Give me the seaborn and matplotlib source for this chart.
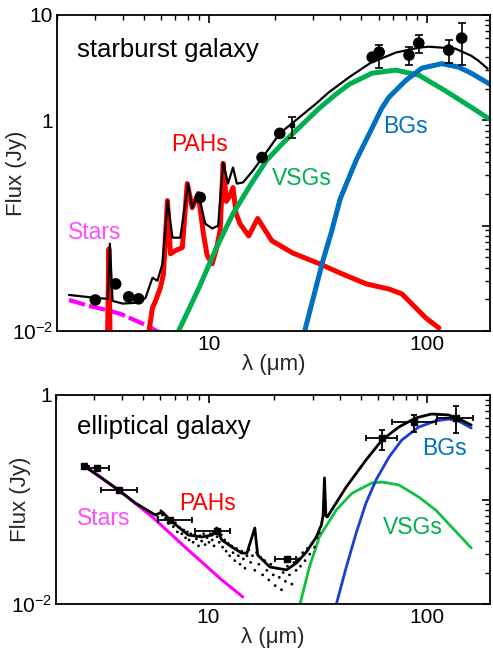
import numpy as np
import pandas as pd
import matplotlib
matplotlib.use("Agg")
import matplotlib.pyplot as plt
import seaborn as sns
from matplotlib.ticker import FixedLocator, FixedFormatter, LogLocator, NullFormatter

# ---------------- data: starburst galaxy (top) ----------------
sb_stars_x = [2.27, 2.8, 3.4, 3.93, 4.5, 5.21, 6.0]
sb_stars_y = [0.0197, 0.0173, 0.0158, 0.0145, 0.0128, 0.0112, 0.0095]

sb_pah_x = [3.30, 3.40, 3.46, 3.52, 3.62, 5.20, 5.27, 5.49, 5.67, 5.97, 6.17, 6.43, 6.64,
            6.99, 7.53, 7.93, 8.36, 8.91, 9.40, 9.79, 10.32, 10.8, 11.23, 11.59, 12.0,
            12.4, 12.87, 13.3, 13.86, 15.2, 16.7, 19.4, 24.2, 32.1, 39.7, 52.7, 67.0,
            76.8, 98.9, 113.5]
sb_pah_y = [0.005, 0.005, 0.060, 0.005, 0.005, 0.005, 0.0094, 0.0166, 0.0193, 0.0257,
            0.035, 0.173, 0.054, 0.058, 0.062, 0.251, 0.148, 0.202, 0.085, 0.052,
            0.0435, 0.06, 0.09, 0.39, 0.17, 0.19, 0.23, 0.13, 0.104, 0.080, 0.117,
            0.072, 0.055, 0.0435, 0.0357, 0.028, 0.025, 0.0225, 0.0133, 0.0107]

sb_vsg_x = [7.2, 8.0, 9.0, 10.0, 10.65, 12.0, 12.87, 15.4, 18.4, 22.0, 26.0, 32.0, 38.0,
            44.0, 56.0, 72.0, 92.0, 122.0, 160.0, 195.0]
sb_vsg_y = [0.0098, 0.0155, 0.026, 0.043, 0.058, 0.097, 0.13, 0.24, 0.42, 0.62, 0.86,
            1.3, 1.75, 2.2, 2.8, 3.0, 2.68, 1.9, 1.33, 1.02]

sb_bg_x = [27.3, 30.0, 33.2, 36.5, 40.0, 44.0, 47.4, 52.0, 56.1, 62.0, 67.0, 80.2, 94.8,
           117.0, 140.0, 160.0, 195.0]
sb_bg_y = [0.0095, 0.0202, 0.0455, 0.088, 0.18, 0.29, 0.42, 0.62, 0.85, 1.3, 1.66,
           2.4, 3.13, 3.45, 3.2, 2.8, 2.2]

sb_tot_x = [2.27, 3.02, 3.42, 3.50, 3.60, 4.01, 4.74, 5.10, 5.49, 5.79, 6.10, 6.45, 6.78,
            7.37, 8.0, 8.36, 8.91, 9.59, 10.32, 11.0, 11.59, 12.2, 12.87, 13.4, 14.3,
            15.9, 17.6, 21.1, 26.0, 31.1, 35.5, 44.0, 55.0, 72.0, 92.0, 102.0, 135.0,
            160.0, 172.0, 190.0]
sb_tot_y = [0.0220, 0.0206, 0.0202, 0.0674, 0.0193, 0.0182, 0.0186, 0.0206, 0.032, 0.030,
            0.0435, 0.173, 0.0769, 0.0769, 0.251, 0.148, 0.202, 0.1045, 0.094, 0.10,
            0.398, 0.251, 0.357, 0.251, 0.257, 0.334, 0.444, 0.752, 1.07, 1.45, 1.85,
            2.57, 3.5, 4.4, 4.9, 5.0, 4.8, 4.1, 3.7, 3.1]

sb_pt_x = [3.0, 3.72, 4.27, 4.74, 9.1, 17.5, 21.1, 56.1, 60.4, 82.8, 91.8, 126.0, 144.5]
sb_pt_y = [0.0197, 0.028, 0.0211, 0.0202, 0.185, 0.444, 0.752, 3.98, 4.44, 4.16, 5.41,
           4.64, 6.04]
sb_pt_lo = [0.0197, 0.028, 0.0211, 0.0202, 0.185, 0.444, 0.752, 3.98, 3.13, 3.34, 4.35,
            3.49, 3.34]
sb_pt_hi = [0.0197, 0.028, 0.0211, 0.0202, 0.185, 0.444, 0.752, 3.98, 5.18, 4.96, 6.45,
            5.78, 8.4]
sb_small_x = [24.0]
sb_small_y = [0.896]
sb_small_lo = [0.674]
sb_small_hi = [1.07]

# ---------------- data: elliptical galaxy (bottom) ----------------
el_stars_x = [2.65, 3.87, 5.53, 8.07, 11.5, 14.35]
el_stars_y = [0.214, 0.123, 0.068, 0.0329, 0.0170, 0.0117]

el_tot_x = [2.65, 3.2, 3.87, 4.62, 5.70, 6.14, 6.82, 7.57, 8.07, 9.34, 10.4, 10.9, 11.5,
            12.8, 14.2, 15.0, 16.3, 16.8, 19.1, 22.8, 25.3, 28.1, 31.2, 32.9, 33.5, 34.0,
            34.5, 35.0, 42.8, 52.7, 62.4, 74.5, 89.1, 105.3, 125.8, 144.0, 160.0]
el_tot_y = [0.214, 0.164, 0.123, 0.0926, 0.0711, 0.0759, 0.0609, 0.0511, 0.0457, 0.0438,
            0.0457, 0.0534, 0.0410, 0.0351, 0.0307, 0.0307, 0.0534, 0.0294, 0.0226,
            0.0212, 0.0247, 0.0315, 0.0438, 0.057, 0.07, 0.161, 0.07, 0.068, 0.132, 0.239,
            0.371, 0.494, 0.603, 0.658, 0.644, 0.576, 0.516]

el_vsg_x = [26.1, 29.0, 32.2, 38.5, 45.5, 56.1, 62.4, 74.5, 91.9, 109.9, 130.0, 160.0]
el_vsg_y = [0.0095, 0.0226, 0.0438, 0.0793, 0.115, 0.144, 0.147, 0.138, 0.1057, 0.0793,
            0.0546, 0.0344]

el_bg_x = [38.5, 42.8, 47.5, 52.7, 58.6, 67.2, 76.9, 91.9, 109.9, 125.8, 140.0, 160.0]
el_bg_y = [0.0099, 0.0226, 0.0478, 0.0926, 0.154, 0.255, 0.371, 0.494, 0.564, 0.589,
           0.564, 0.483]

el_pt_x = [2.7, 3.07, 3.87, 6.68, 10.9, 23.0, 62.4, 87.3, 135.5]
el_pt_y = [0.208, 0.200, 0.123, 0.0637, 0.050, 0.027, 0.388, 0.552, 0.603]
el_pt_xlo = [2.7, 2.82, 3.20, 5.89, 8.68, 20.1, 52.7, 69.2, 111.0]
el_pt_xhi = [2.7, 3.49, 4.72, 8.41, 12.5, 25.3, 73.0, 109.9, 163.6]
el_pt_ylo = [0.208, 0.200, 0.123, 0.0637, 0.050, 0.027, 0.298, 0.443, 0.433]
el_pt_yhi = [0.208, 0.200, 0.123, 0.0637, 0.050, 0.027, 0.463, 0.643, 0.785]

# scattered spectral samples around the PAH region
el_dot_x = [5.85, 6.05, 6.15, 6.35, 6.55, 6.7, 6.9, 7.05, 7.2, 7.35, 7.55, 7.7,
            7.85, 8.0, 8.15, 8.3, 8.5, 8.65, 8.8, 9.0, 9.15, 9.3, 9.5, 9.65,
            9.85, 10.05, 10.2, 10.4, 10.6, 10.75, 10.95, 11.2, 11.45, 11.6, 11.85, 12.05,
            12.3, 12.5, 12.75, 12.95, 13.2, 13.45, 13.7, 13.95, 14.2, 14.45, 14.7, 15.0,
            15.3, 15.6, 15.9, 16.3, 16.6, 17.0, 17.3, 17.7, 18.1, 18.5, 18.9, 19.3,
            19.8, 20.2, 20.6, 21.1, 21.6, 22.0, 22.5, 23.0, 23.5, 24.1, 24.6, 25.2,
            25.8, 26.4, 27.0, 27.7, 28.4, 29.1, 29.8, 30.6, 31.4, 32.2]
el_dot_y = [0.068, 0.078, 0.071, 0.066, 0.059, 0.064, 0.055, 0.060, 0.049, 0.054, 0.047, 0.051,
            0.043, 0.049, 0.041, 0.047, 0.039, 0.046, 0.042, 0.036, 0.045, 0.040, 0.047, 0.037,
            0.043, 0.039, 0.047, 0.041, 0.036, 0.050, 0.044, 0.039, 0.046, 0.035, 0.041, 0.032,
            0.038, 0.029, 0.036, 0.031, 0.026, 0.034, 0.029, 0.024, 0.032, 0.027, 0.022, 0.029,
            0.033, 0.025, 0.029, 0.021, 0.031, 0.024, 0.028, 0.019, 0.026, 0.021, 0.017, 0.024,
            0.019, 0.015, 0.022, 0.018, 0.0137, 0.020, 0.0165, 0.023, 0.019, 0.0155, 0.025, 0.021,
            0.027, 0.023, 0.031, 0.026, 0.034, 0.030, 0.038, 0.035, 0.043, 0.048]

xtick_vals = [10, 100]
xtick_labels = ["10", "100"]
sb_ytick_vals = [0.01, 0.1, 1, 10]
sb_ytick_labels = [r"10$^{\mathregular{-2}}$", "", "1", "10"]
el_ytick_vals = [0.01, 0.1, 1]
el_ytick_labels = [r"10$^{\mathregular{-2}}$", "", "1"]

# ---------------- style ----------------
sns.set_theme(style="white")
plt.rcParams["font.family"] = ["Liberation Sans", "DejaVu Sans"]
plt.rcParams["mathtext.default"] = "regular"

RED = "#ff0000"
GREEN = "#00b050"
BLUE = "#0070c0"
MAG = "#ff00ff"
MAGT = "#ff4dff"

fig = plt.figure(figsize=(4.93, 6.48), dpi=100)
W, H = 493, 648


def add_ax(l, t, r, b):
    return fig.add_axes([l / W, 1 - b / H, (r - l) / W, (b - t) / H])


ax1 = add_ax(57, 15, 490, 331)
ax2 = add_ax(56, 395, 490, 604)


def line(ax, x, y, color, lw, z=2):
    df = pd.DataFrame({"x": x, "y": y})
    sns.lineplot(data=df, x="x", y="y", ax=ax, color=color, lw=lw,
                 estimator=None, sort=False, zorder=z)
    return ax.lines[-1]


def style_axes(ax, yvals, ylabels, ylim, ylab_x):
    ax.set_xscale("log")
    ax.set_yscale("log")
    ax.set_xlim(2.0, 195)
    ax.set_ylim(*ylim)
    ax.xaxis.set_major_locator(FixedLocator(xtick_vals))
    ax.xaxis.set_major_formatter(FixedFormatter(xtick_labels))
    ax.xaxis.set_minor_locator(LogLocator(base=10, subs=np.arange(2, 10)))
    ax.xaxis.set_minor_formatter(NullFormatter())
    ax.yaxis.set_major_locator(FixedLocator(yvals))
    ax.yaxis.set_major_formatter(FixedFormatter(ylabels))
    ax.yaxis.set_minor_locator(LogLocator(base=10, subs=np.arange(2, 10)))
    ax.yaxis.set_minor_formatter(NullFormatter())
    ax.tick_params(which="both", direction="in", top=True, right=True,
                   labelsize=15, colors="black", pad=3)
    ax.tick_params(which="major", length=6, width=1.2)
    ax.tick_params(which="minor", length=3.5, width=1.0)
    for s in ax.spines.values():
        s.set_linewidth(1.3)
        s.set_color("black")
    ax.set_xlabel("λ (μm)", fontsize=16, labelpad=0)
    ax.set_ylabel("Flux (Jy)", fontsize=16)
    ax.yaxis.set_label_coords(ylab_x, 0.5)


# ---- top panel ----
ln = line(ax1, sb_stars_x, sb_stars_y, MAG, 3.0)
ln.set_dashes((4, 1))
line(ax1, sb_pah_x, sb_pah_y, RED, 3.6)
line(ax1, sb_vsg_x, sb_vsg_y, GREEN, 3.6)
line(ax1, sb_bg_x, sb_bg_y, BLUE, 3.6)
line(ax1, sb_tot_x, sb_tot_y, "black", 1.6, z=3)
sb_pt_y_arr = np.array(sb_pt_y)
ax1.errorbar(sb_pt_x, sb_pt_y,
             yerr=[sb_pt_y_arr - np.array(sb_pt_lo), np.array(sb_pt_hi) - sb_pt_y_arr],
             fmt="none", ecolor="black", elinewidth=1.2, capsize=3, capthick=1.2, zorder=4)
sns.scatterplot(x=sb_pt_x, y=sb_pt_y, ax=ax1, color="black", s=70, edgecolor="none",
                zorder=5)
sm = np.array(sb_small_y)
ax1.errorbar(sb_small_x, sb_small_y,
             yerr=[sm - np.array(sb_small_lo), np.array(sb_small_hi) - sm],
             fmt="s", color="black", ms=3, elinewidth=1.2, capsize=3, capthick=1.2,
             zorder=4)
style_axes(ax1, sb_ytick_vals, sb_ytick_labels, (0.01, 10), -0.07)
ax1.text(0.046, 0.889, "starburst galaxy", transform=ax1.transAxes, fontsize=18.5,
         ha="left", va="center", color="black")
ax1.text(0.328, 0.589, "PAHs", transform=ax1.transAxes, fontsize=16.5, ha="center",
         va="center", color=RED)
ax1.text(0.088, 0.313, "Stars", transform=ax1.transAxes, fontsize=16.5, ha="center",
         va="center", color=MAGT)
ax1.text(0.566, 0.484, "VSGs", transform=ax1.transAxes, fontsize=16.5, ha="center",
         va="center", color=GREEN)
ax1.text(0.804, 0.646, "BGs", transform=ax1.transAxes, fontsize=16.5, ha="center",
         va="center", color=BLUE)

# ---- bottom panel ----
line(ax2, el_stars_x, el_stars_y, MAG, 2.2)
line(ax2, el_vsg_x, el_vsg_y, "#10c040", 2.0)
line(ax2, el_bg_x, el_bg_y, "#1a40d0", 2.0)
sns.scatterplot(x=el_dot_x, y=el_dot_y, ax=ax2, color="black", s=4, edgecolor="none",
                zorder=3)
line(ax2, el_tot_x, el_tot_y, "black", 2.0, z=4)
ex = np.array(el_pt_x)
ey = np.array(el_pt_y)
ax2.errorbar(el_pt_x, el_pt_y,
             xerr=[ex - np.array(el_pt_xlo), np.array(el_pt_xhi) - ex],
             yerr=[ey - np.array(el_pt_ylo), np.array(el_pt_yhi) - ey],
             fmt="s", color="black", ms=4, elinewidth=1.3, capsize=2, capthick=1.3,
             zorder=5)
style_axes(ax2, el_ytick_vals, el_ytick_labels, (0.01, 1), -0.058)
ax2.text(0.048, 0.847, "elliptical galaxy", transform=ax2.transAxes, fontsize=18.5,
         ha="left", va="center", color="black")
ax2.text(0.348, 0.483, "PAHs", transform=ax2.transAxes, fontsize=16.5, ha="center",
         va="center", color=RED)
ax2.text(0.111, 0.411, "Stars", transform=ax2.transAxes, fontsize=16.5, ha="center",
         va="center", color=MAGT)
ax2.text(0.896, 0.746, "BGs", transform=ax2.transAxes, fontsize=16.5, ha="center",
         va="center", color=BLUE)
ax2.text(0.822, 0.364, "VSGs", transform=ax2.transAxes, fontsize=16.5, ha="center",
         va="center", color=GREEN)

fig.savefig("out.png", dpi=100)
